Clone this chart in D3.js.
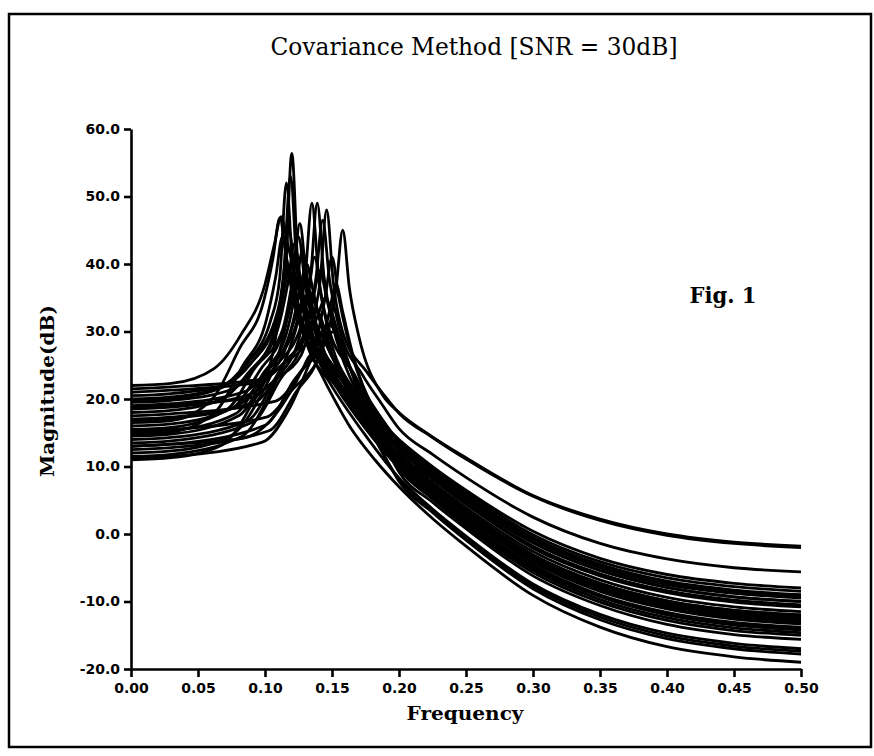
<!DOCTYPE html>
<html>
<head>
<meta charset="utf-8">
<script src="https://cdn.jsdelivr.net/npm/d3@7"></script>
<style>
  body { margin: 0; background: #fff; }
  svg { display: block; }
  .curve { fill: none; stroke: #000; stroke-width: 2.8; stroke-linejoin: round; }
  .axis path, .axis line { stroke: #000; stroke-width: 2.6; }
  .axis text { font-family: "DejaVu Sans", sans-serif; font-weight: bold; font-size: 14px; fill: #000; }
  .lbl { font-family: "DejaVu Serif", serif; fill: #000; }
</style>
</head>
<body>
<div id="chart"></div>
<script>
// tick values
var yTicks = [-20, -10, 0, 10, 20, 30, 40, 50, 60];
var xTicks = [0, 0.05, 0.10, 0.15, 0.20, 0.25, 0.30, 0.35, 0.40, 0.45, 0.50];

// spectra: [frequency, dB]
var spectra = [
  [[0,22],[0.03,22.3],[0.062,24.5],[0.082,29.5],[0.1,37],[0.107,42.9],[0.112,47],[0.117,42.9],[0.124,37],[0.142,29.5],[0.175,17.5],[0.2,11.5],[0.225,7.3],[0.25,3.5],[0.3,-3.1],[0.35,-7.3],[0.4,-9.9],[0.45,-11.3],[0.5,-12.0]],
  [[0,21.5],[0.03,21.8],[0.096,22.9],[0.116,25.8],[0.134,31],[0.141,37.2],[0.146,48],[0.151,37.2],[0.158,29.9],[0.176,24],[0.188,20.8],[0.2,17.9],[0.225,14.3],[0.25,11.1],[0.3,5.6],[0.35,2.0],[0.4,-0.2],[0.45,-1.4],[0.5,-2.0]],
  [[0,20.5],[0.03,20.8],[0.07,22.1],[0.09,25.4],[0.108,31.5],[0.115,37.9],[0.12,56.4],[0.125,37.9],[0.132,30.4],[0.15,23],[0.175,16.5],[0.2,11.2],[0.225,6.9],[0.25,3.1],[0.3,-3.5],[0.35,-7.8],[0.4,-10.4],[0.45,-11.8],[0.5,-12.5]],
  [[0,20],[0.03,20.3],[0.066,21.7],[0.086,25.3],[0.104,31.5],[0.111,37.9],[0.116,52],[0.121,37.9],[0.128,30.4],[0.146,25.5],[0.175,19],[0.2,14.0],[0.225,10.0],[0.25,6.5],[0.3,0.4],[0.35,-3.6],[0.4,-6.0],[0.45,-7.3],[0.5,-8.0]],
  [[0,19.5],[0.03,19.8],[0.075,21.4],[0.095,25.2],[0.113,30.2],[0.12,37],[0.125,44],[0.13,37],[0.137,30.2],[0.155,23.5],[0.175,18.8],[0.2,13.4],[0.225,9.4],[0.25,5.8],[0.3,-0.5],[0.35,-4.5],[0.4,-7.0],[0.45,-8.3],[0.5,-9.0]],
  [[0,19],[0.03,19.3],[0.085,21.1],[0.105,25.3],[0.123,30.9],[0.13,38.2],[0.135,49],[0.14,38.2],[0.147,30.9],[0.165,24],[0.183,18.3],[0.2,13.7],[0.225,9.7],[0.25,6.2],[0.3,-0.1],[0.35,-4.1],[0.4,-6.5],[0.45,-7.8],[0.5,-8.5]],
  [[0,18.5],[0.03,18.8],[0.089,20.7],[0.109,25.1],[0.127,30.9],[0.134,38.2],[0.139,49],[0.144,38.2],[0.151,30.9],[0.169,22.8],[0.185,16.5],[0.2,12.8],[0.225,8.7],[0.25,5.0],[0.3,-1.3],[0.35,-5.4],[0.4,-7.9],[0.45,-9.3],[0.5,-10.0]],
  [[0,18],[0.03,18.3],[0.068,20.0],[0.088,24],[0.106,29.3],[0.113,36.4],[0.118,45],[0.123,36.4],[0.13,29.3],[0.148,24],[0.175,18.0],[0.2,13.1],[0.225,9.0],[0.25,5.4],[0.3,-0.9],[0.35,-5.0],[0.4,-7.5],[0.45,-8.8],[0.5,-9.5]],
  [[0,17.5],[0.03,17.8],[0.108,19.7],[0.128,24.3],[0.146,29.3],[0.153,36.4],[0.158,45],[0.163,36.4],[0.17,29.3],[0.188,20.5],[0.2,18.0],[0.225,14.4],[0.25,11.3],[0.3,5.7],[0.35,2.2],[0.4,0.0],[0.45,-1.2],[0.5,-1.8]],
  [[0,17],[0.03,17.3],[0.093,19.6],[0.113,24.8],[0.131,30.8],[0.138,37.9],[0.143,46.5],[0.148,37.9],[0.155,30.8],[0.173,23.5],[0.187,19.3],[0.2,15.6],[0.225,11.8],[0.25,8.4],[0.3,2.5],[0.35,-1.4],[0.4,-3.7],[0.45,-5.0],[0.5,-5.6]],
  [[0,16.5],[0.03,16.8],[0.061,20.1],[0.081,27.5],[0.099,34.5],[0.106,40.9],[0.111,46.8],[0.116,40.9],[0.123,34.5],[0.141,26.8],[0.175,16.5],[0.2,10.8],[0.225,6.5],[0.25,2.7],[0.3,-4.0],[0.35,-8.2],[0.4,-10.9],[0.45,-12.3],[0.5,-13.0]],
  [[0,16],[0.03,16.3],[0.076,18.7],[0.096,24.2],[0.114,30.3],[0.121,37.4],[0.126,46],[0.131,37.4],[0.138,30.3],[0.156,23.5],[0.175,17.6],[0.2,12.4],[0.225,8.3],[0.25,4.6],[0.3,-1.8],[0.35,-5.9],[0.4,-8.4],[0.45,-9.8],[0.5,-10.5]],
  [[0,15.5],[0.03,15.8],[0.072,18.5],[0.092,24.5],[0.11,30.7],[0.117,37.1],[0.122,43],[0.127,37.1],[0.134,30.7],[0.152,23.5],[0.175,17.0],[0.2,11.8],[0.225,7.6],[0.25,3.9],[0.3,-2.6],[0.35,-6.8],[0.4,-9.4],[0.45,-10.8],[0.5,-11.5]],
  [[0,15],[0.03,15.3],[0.078,17.8],[0.098,23.6],[0.116,29.7],[0.123,36.1],[0.128,42],[0.133,36.1],[0.14,29.7],[0.158,22.5],[0.175,17.6],[0.2,11.5],[0.225,7.3],[0.25,3.5],[0.3,-3.1],[0.35,-7.3],[0.4,-9.9],[0.45,-11.3],[0.5,-12.0]],
  [[0,14.5],[0.03,14.8],[0.081,17.6],[0.101,23.8],[0.119,30],[0.126,35.9],[0.131,40],[0.136,35.9],[0.143,30],[0.161,22.5],[0.18,16.0],[0.2,10.6],[0.225,6.3],[0.25,2.5],[0.3,-4.2],[0.35,-8.5],[0.4,-11.1],[0.45,-12.6],[0.5,-13.3]],
  [[0,14],[0.03,14.3],[0.087,16.8],[0.107,22.6],[0.125,28.7],[0.132,35.1],[0.137,41],[0.142,35.1],[0.149,28.7],[0.167,21],[0.184,15.0],[0.2,10.3],[0.225,6.0],[0.25,2.1],[0.3,-4.6],[0.35,-9.0],[0.4,-11.6],[0.45,-13.1],[0.5,-13.8]],
  [[0,13.5],[0.03,13.8],[0.091,16.6],[0.111,22.8],[0.129,29],[0.136,34.9],[0.141,39],[0.146,34.9],[0.153,29],[0.171,20],[0.186,14.3],[0.2,10.1],[0.225,5.7],[0.25,1.8],[0.3,-5.0],[0.35,-9.3],[0.4,-12.0],[0.45,-13.5],[0.5,-14.2]],
  [[0,13],[0.03,13.3],[0.1,16.1],[0.12,22.3],[0.138,28.7],[0.145,35.1],[0.15,41],[0.155,35.1],[0.162,28.7],[0.18,19.0],[0.19,15.8],[0.2,13.3],[0.225,9.2],[0.25,5.6],[0.3,-0.7],[0.35,-4.7],[0.4,-7.2],[0.45,-8.5],[0.5,-9.2]],
  [[0,12.5],[0.03,12.8],[0.103,15.3],[0.123,21],[0.141,27],[0.148,32.9],[0.153,37],[0.158,32.9],[0.165,27],[0.183,17.5],[0.192,14.6],[0.2,12.2],[0.225,8.1],[0.25,4.4],[0.3,-2.1],[0.35,-6.2],[0.4,-8.7],[0.45,-10.1],[0.5,-10.8]],
  [[0,12],[0.03,12.3],[0.074,14.5],[0.094,19.5],[0.112,28],[0.119,33.9],[0.124,38],[0.129,33.9],[0.136,28],[0.154,21.5],[0.175,15.6],[0.2,9.8],[0.225,5.4],[0.25,1.5],[0.3,-5.3],[0.35,-9.7],[0.4,-12.4],[0.45,-13.9],[0.5,-14.6]],
  [[0,11.5],[0.03,11.8],[0.083,14.5],[0.103,20.5],[0.121,29],[0.128,33.7],[0.133,36],[0.138,33.7],[0.145,29],[0.163,21.9],[0.182,15.5],[0.2,9.6],[0.225,5.2],[0.25,1.2],[0.3,-5.7],[0.35,-10.1],[0.4,-12.8],[0.45,-14.3],[0.5,-15.0]],
  [[0,11],[0.03,11.3],[0.068,13.2],[0.088,18.5],[0.106,27],[0.113,34.9],[0.118,39],[0.123,34.9],[0.13,29],[0.148,22.5],[0.175,14.6],[0.2,8.3],[0.225,3.7],[0.25,-0.3],[0.3,-7.4],[0.35,-11.9],[0.4,-14.7],[0.45,-16.2],[0.5,-17.0]],
  [[0,21],[0.03,21.3],[0.095,22.5],[0.115,25.4],[0.133,29],[0.14,32.7],[0.145,35],[0.15,32.7],[0.157,28],[0.175,19.5],[0.188,14.8],[0.2,11.3],[0.225,7.1],[0.25,3.3],[0.3,-3.3],[0.35,-7.5],[0.4,-10.1],[0.45,-11.5],[0.5,-12.2]],
  [[0,18.8],[0.03,19.1],[0.089,20.2],[0.109,23.1],[0.127,26.5],[0.134,30.7],[0.139,33],[0.144,30.7],[0.151,26],[0.169,18.9],[0.185,13.0],[0.2,8.0],[0.225,3.4],[0.25,-0.6],[0.3,-7.7],[0.35,-12.3],[0.4,-15.1],[0.45,-16.6],[0.5,-17.4]],
  [[0,16.8],[0.03,17.1],[0.077,18.7],[0.097,22.7],[0.115,27.3],[0.122,31.7],[0.127,34],[0.132,31.7],[0.139,27],[0.157,21],[0.178,15.4],[0.2,10.2],[0.225,5.8],[0.25,2.0],[0.3,-4.8],[0.35,-9.2],[0.4,-11.8],[0.45,-13.3],[0.5,-14.0]],
  [[0,13],[0.03,13.3],[0.084,14.2],[0.104,16.8],[0.122,22.1],[0.129,24.8],[0.134,26.5],[0.139,24.8],[0.146,22.1],[0.164,15.7],[0.182,11.0],[0.2,7.0],[0.225,2.3],[0.25,-1.8],[0.3,-9.1],[0.35,-13.8],[0.4,-16.7],[0.45,-18.2],[0.5,-19.0]],
  [[0,11.2],[0.03,11.5],[0.098,13.6],[0.118,18.5],[0.136,26.6],[0.143,29.8],[0.148,31],[0.153,29.8],[0.16,26.6],[0.178,16],[0.189,11.6],[0.2,7.8],[0.225,3.2],[0.25,-0.9],[0.3,-8.1],[0.35,-12.7],[0.4,-15.5],[0.45,-17.0],[0.5,-17.8]],
  [[0,15.2],[0.03,15.5],[0.101,17.3],[0.121,21.5],[0.139,25.6],[0.146,28.8],[0.151,30],[0.156,28.8],[0.163,25],[0.181,16.5],[0.191,12.5],[0.2,9.2],[0.225,4.7],[0.25,0.8],[0.3,-6.2],[0.35,-10.6],[0.4,-13.4],[0.45,-14.9],[0.5,-15.6]],
  [[0,19.8],[0.03,20.1],[0.069,21.8],[0.089,25.8],[0.107,31.4],[0.114,38.9],[0.119,53],[0.124,38.9],[0.131,31.4],[0.149,24.5],[0.175,17.2],[0.2,11.0],[0.225,6.7],[0.25,2.9],[0.3,-3.8],[0.35,-8.0],[0.4,-10.7],[0.45,-12.1],[0.5,-12.8]],
  [[0,14.8],[0.03,15.1],[0.063,18.1],[0.083,24.8],[0.101,31.7],[0.108,38.1],[0.113,44],[0.118,38.1],[0.125,31.7],[0.143,25.5],[0.165,20.2],[0.2,12.8],[0.225,8.7],[0.25,5.0],[0.3,-1.3],[0.35,-5.4],[0.4,-7.9],[0.45,-9.3],[0.5,-10.0]]
];

var width = 874, height = 756;
var plot = {left: 131, right: 801, top: 129, bottom: 669};

var svg = d3.select("#chart").append("svg")
    .attr("width", width)
    .attr("height", height);

// scanned page frame
svg.append("rect")
   .attr("x", 9).attr("y", 14)
   .attr("width", 862).attr("height", 733)
   .attr("fill", "none").attr("stroke", "#000").attr("stroke-width", 2.5);

var xScale = d3.scaleLinear().domain([0, 0.5]).range([plot.left, plot.right]);
var yScale = d3.scaleLinear().domain([-20, 60]).range([plot.bottom, plot.top]);

var line = d3.line()
    .x(function (d) { return xScale(d[0]); })
    .y(function (d) { return yScale(d[1]); })
    .curve(d3.curveMonotoneX);

svg.append("g")
   .selectAll("path")
   .data(spectra)
   .enter()
   .append("path")
   .attr("class", "curve")
   .attr("d", line);

// axes
svg.append("g")
   .attr("class", "axis")
   .attr("transform", "translate(0," + plot.bottom + ")")
   .call(d3.axisBottom(xScale).tickValues(xTicks).tickFormat(d3.format(".2f"))
         .tickSize(8).tickSizeOuter(0).tickPadding(6));

svg.append("g")
   .attr("class", "axis")
   .attr("transform", "translate(" + plot.left + ",0)")
   .call(d3.axisLeft(yScale).tickValues(yTicks).tickFormat(d3.format(".1f"))
         .tickSize(7).tickSizeOuter(0).tickPadding(4));

svg.selectAll(".axis text").text(function () { return this.textContent.replace("\u2212", "-"); });

// labels
svg.append("text").attr("class", "lbl")
   .attr("x", 474).attr("y", 55)
   .attr("text-anchor", "middle")
   .attr("font-size", 24)
   .attr("textLength", 407).attr("lengthAdjust", "spacingAndGlyphs")
   .text("Covariance Method [SNR = 30dB]");

svg.append("text").attr("class", "lbl")
   .attr("x", 723).attr("y", 303)
   .attr("text-anchor", "middle")
   .attr("font-size", 23).attr("font-weight", "bold")
   .attr("textLength", 67).attr("lengthAdjust", "spacingAndGlyphs")
   .text("Fig. 1");

svg.append("text").attr("class", "lbl")
   .attr("x", 465).attr("y", 720)
   .attr("text-anchor", "middle")
   .attr("font-size", 19).attr("font-weight", "bold")
   .attr("textLength", 117).attr("lengthAdjust", "spacingAndGlyphs")
   .text("Frequency");

svg.append("text").attr("class", "lbl")
   .attr("transform", "translate(54,391) rotate(-90)")
   .attr("text-anchor", "middle")
   .attr("font-size", 18).attr("font-weight", "bold")
   .attr("textLength", 172).attr("lengthAdjust", "spacingAndGlyphs")
   .text("Magnitude(dB)");
</script>
</body>
</html>
